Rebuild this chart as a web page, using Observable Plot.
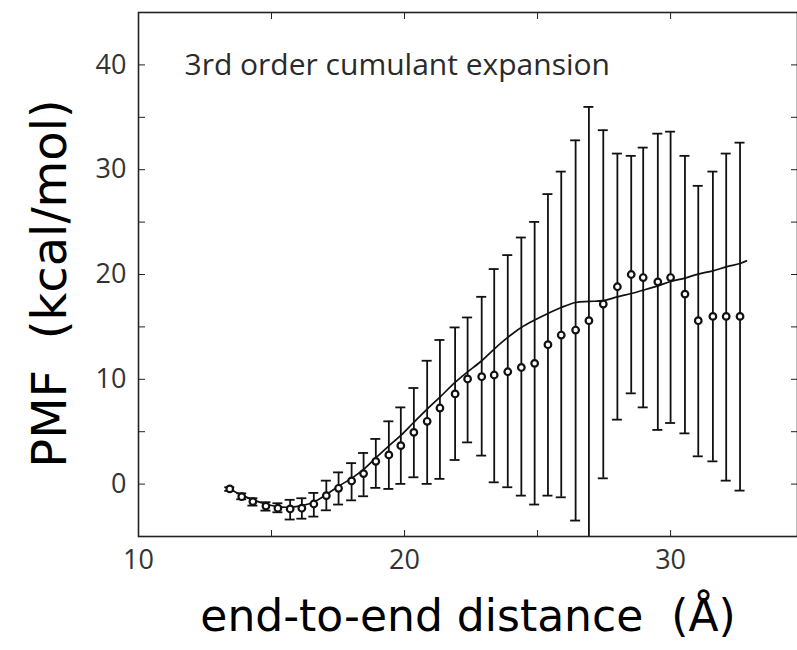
<!DOCTYPE html>
<html><head><meta charset="utf-8">
<script src="https://cdn.jsdelivr.net/npm/d3@7"></script>
<script src="https://cdn.jsdelivr.net/npm/@observablehq/plot@0.6"></script>
<style>body{margin:0;background:#fff;overflow:hidden;} svg text{white-space:pre;}</style>
</head><body><div id="chart"></div>
<script>
// Data points (end-to-end distance in Å, PMF in kcal/mol) with error-bar ends
const distance = [13.43,13.88,14.30,14.79,15.24,15.70,16.14,16.59,17.06,17.52,18.01,18.46,18.92,19.41,19.86,20.35,20.85,21.33,21.90,22.37,22.90,23.37,23.88,24.39,24.89,25.39,25.89,26.43,26.93,27.47,28.00,28.52,28.97,29.52,30.00,30.54,31.04,31.59,32.09,32.61];
const pmf = [-0.46,-1.2,-1.67,-2.1,-2.3,-2.37,-2.3,-1.9,-1.1,-0.4,0.3,1.0,2.17,2.78,3.67,4.94,5.99,7.26,8.6,10.03,10.25,10.41,10.72,11.13,11.52,13.3,14.22,14.7,15.59,17.18,18.83,20.0,19.71,19.3,19.71,18.13,15.59,16.0,16.0,16.0];
const errTop = [-0.3,-0.88,-1.35,-1.73,-1.83,-1.5,-1.35,-0.84,0.33,1.12,2.0,2.97,4.31,5.99,7.32,9.17,11.77,13.75,14.95,15.9,17.87,20.52,21.85,23.53,25.02,27.67,29.82,32.8,35.99,33.77,31.54,31.32,32.11,33.44,33.63,31.32,28.46,29.82,31.54,32.58];
const errBottom = [-0.65,-1.45,-2.05,-2.53,-2.69,-3.38,-3.3,-3.1,-2.5,-1.95,-1.55,-1.16,-0.36,-0.46,0.02,0.65,0.02,0.5,2.3,3.98,2.72,0.17,-0.3,-1.1,-1.95,-1.1,-1.26,-3.48,-12,0.55,6.15,8.66,7.32,5.17,5.83,4.84,2.65,2.17,0.33,-0.62];
// Solid curve
const curveDistance = [13.43,13.88,14.30,14.79,15.24,15.70,16.14,16.59,17.06,17.52,18.01,18.46,18.92,19.41,19.86,20.35,20.85,21.33,21.90,22.37,22.90,23.37,23.88,24.39,24.89,25.39,25.89,26.43,26.93,27.47,28.00,28.52,28.97,29.52,30.00,30.54,31.04,31.59,32.09,32.61,32.85];
const curvePmf = [-0.5,-1.05,-1.5,-1.9,-2.15,-2.2,-2.05,-1.7,-1.0,-0.2,0.55,1.4,2.5,3.65,4.65,5.9,7.15,8.3,9.7,10.7,11.77,12.89,14.0,14.95,15.65,16.28,16.85,17.33,17.43,17.5,17.87,18.19,18.51,18.92,19.33,19.66,20.04,20.35,20.73,21.05,21.3];
// Ticks and labels
const xTickLabels = [10,20,30];
const xMinorTicks = [15,20,25,30];
const yTickLabels = [0,10,20,30,40];
const yMinorTicks = [0,5,10,15,20,25,30,35,40];
const xTitle = "end-to-end distance  (Å)";
const yTitle = "PMF  (kcal/mol)";
const annotation = "3rd order cumulant expansion";

const points = distance.map((d,i)=>({d, v:pmf[i], hi:errTop[i], lo:errBottom[i]}));
const curve = curveDistance.map((d,i)=>({d, v:curvePmf[i]}));

const tickFont = "'Open Sans',sans-serif";
const titleFont = "'DejaVu Sans',sans-serif";
const ink = "#111";

const chart = Plot.plot({
  width: 797, height: 650,
  marginLeft: 138, marginTop: 12, marginRight: 0, marginBottom: 114,
  x: {domain: [10, 34.77]},
  y: {domain: [-5, 45]},
  style: {background: "#fff", fontFamily: tickFont},
  marks: [
    Plot.ruleX(points, {x:"d", y1:"lo", y2:"hi", stroke:ink, strokeWidth:1.8, clip:true}),
    Plot.ruleY(points, {y:"hi", x1:"d", x2:"d", insetLeft:-5, insetRight:-5, stroke:ink, strokeWidth:1.8, clip:true}),
    Plot.ruleY(points, {y:"lo", x1:"d", x2:"d", insetLeft:-5, insetRight:-5, stroke:ink, strokeWidth:1.8, clip:true}),
    Plot.line(curve, {x:"d", y:"v", stroke:ink, strokeWidth:1.7, curve:"catmull-rom"}),
    Plot.dot(points, {x:"d", y:"v", r:3.3, fill:"white", stroke:ink, strokeWidth:2.2}),
    Plot.axisX({anchor:"bottom", ticks:xMinorTicks, tickSize:-6, tickFormat:()=>"", label:null, stroke:"#222"}),
    Plot.axisX({anchor:"top", ticks:xMinorTicks, tickSize:-6, tickFormat:()=>"", label:null, stroke:"#222"}),
    Plot.axisX({anchor:"bottom", ticks:xTickLabels, tickSize:0, tickPadding:13, label:null, fontSize:27, fill:"#333"}),
    Plot.axisY({anchor:"left", ticks:yMinorTicks, tickSize:-7, tickFormat:()=>"", label:null, stroke:"#222"}),
    Plot.axisY({anchor:"right", ticks:yMinorTicks, tickSize:-7, tickFormat:()=>"", label:null, stroke:"#222"}),
    Plot.axisY({anchor:"left", ticks:yTickLabels, tickSize:0, tickPadding:12, label:null, fontSize:27, fill:"#333"}),
    Plot.frame({stroke:"#222", strokeWidth:1.6}),
    Plot.text([annotation], {text:d=>d, frameAnchor:"top-left", textAnchor:"start", lineAnchor:"middle", dx:46, dy:53, fontSize:30, fontFamily:"'Open Sans',sans-serif", fill:"#2a2a2a"}),
    Plot.text([xTitle], {text:d=>d, frameAnchor:"bottom", textAnchor:"middle", lineAnchor:"middle", dy:80, fontSize:44, fontFamily:titleFont, fill:"#000"}),
    Plot.text([yTitle], {text:d=>d, frameAnchor:"left", textAnchor:"middle", rotate:-90, lineAnchor:"middle", dx:-88, dy:9, fontSize:48, fontFamily:titleFont, fill:"#000"})
  ]
});
document.getElementById("chart").appendChild(chart);
</script>
</body></html>
